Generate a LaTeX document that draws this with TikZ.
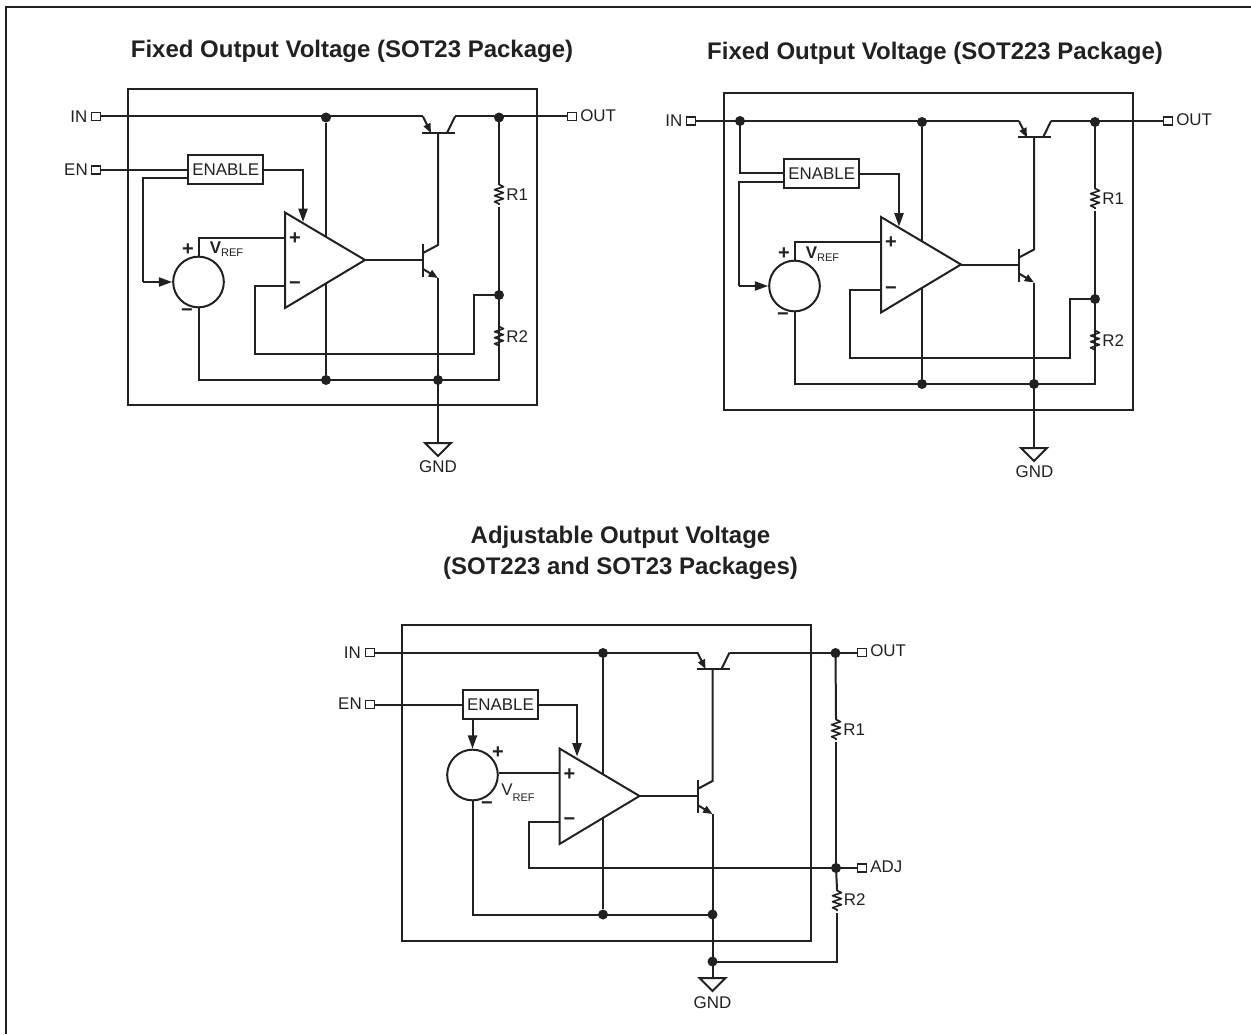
\documentclass[tikz,border=0pt]{standalone}
\usepackage{fontspec}
\setmainfont{Liberation Sans}
\usetikzlibrary{arrows.meta}
\definecolor{ink}{gray}{0.13}
\tikzset{
 x=0.75pt,y=-0.75pt,
 wire/.style={line width=1.5pt,draw=ink,line join=miter},
 box/.style={line width=1.5pt,draw=ink},
 arr/.style={wire,-{Triangle[length=10pt,width=6.8pt]}},
 smallarr/.style={wire,-{Triangle[length=7pt,width=5.5pt]}},
 dot/.style={circle,fill=ink,inner sep=0pt,minimum size=7.5pt},
 pin/.style={rectangle,draw=ink,fill=white,line width=1.2pt,inner sep=0pt,minimum width=6.5pt,minimum height=5.8pt},
 lbl/.style={font=\fontsize{12.7pt}{14pt}\selectfont,text=ink,inner sep=0pt},
 sym/.style={font=\bfseries\fontsize{15pt}{15pt}\selectfont,text=ink,inner sep=0pt},
 ttl/.style={font=\bfseries\fontsize{18pt}{23pt}\selectfont,text=ink,inner sep=0pt,align=center},
 enbox/.style={draw=ink,line width=1.5pt,fill=white,minimum width=56pt,minimum height=21.5pt,inner sep=0pt,font=\fontsize{12.7pt}{14pt}\selectfont,text=ink},
 srcc/.style={draw=ink,line width=1.5pt,circle,minimum size=38pt,inner sep=0pt,fill=white},
}
\newcommand{\vres}[2]{%
 \draw[wire,line width=1.2pt,line join=round] (#1,#2-12) -- ++(0,1.5) -- ++(4.5,2.2) -- ++(-9,3) -- ++(9,3) -- ++(-9,3) -- ++(9,3) -- ++(-9,3) -- ++(4.5,2) -- ++(0,1.3);}
\newcommand{\gndsym}[2]{%
 \draw[wire] (#1-13,#2) -- (#1+13,#2) -- (#1,#2+13) -- cycle;}
\newcommand{\commonparts}[3]{%
 \begin{scope}[shift={(#2,#3)}]
 \coordinate (#1opA) at (285,212.5); \coordinate (#1opB) at (285,308); \coordinate (#1opC) at (365,260);
 \draw[wire,fill=white] (#1opA) -- (#1opB) -- (#1opC) -- cycle;
 \node[sym] (#1plus) at (295,238.5) {+};
 \node[sym] (#1minus) at (295,286) {−};
 \coordinate (#1pe) at (431,133); \coordinate (#1pc) at (447,133); \coordinate (#1pb) at (438,133);
 \draw[wire] (422,133) -- (455,133);
 \draw[smallarr] (423,116.5) -- (#1pe);
 \draw[wire] (#1pc) -- (455,116.5);
 \coordinate (#1nb) at (423,260); \coordinate (#1nc) at (438,245); \coordinate (#1ne) at (438,278);
 \draw[wire] (423,244) -- (423,277);
 \draw[wire] (#1opC) -- (#1nb);
 \draw[wire] (423,253) -- (#1nc) -- (#1pb);
 \draw[smallarr] (423,269) -- (#1ne);
 \end{scope}}
\begin{document}
\begin{tikzpicture}
\useasboundingbox (0,0) rectangle (1251,1034);
\draw[line width=1.5pt,draw=ink] (6,1034) -- (6,7.5) -- (1251,7.5);
\node[ttl] (t1) at (352,51) {Fixed Output Voltage (SOT23 Package)};
\node[ttl] (t2) at (935,53) {Fixed Output Voltage (SOT223 Package)};
\node[ttl] (t3) at (620.5,553) {Adjustable Output Voltage\\(SOT223 and SOT23 Packages)};
%% ---------- diagram 1 ----------
\draw[box] (128,89) rectangle (537,405);
\node[pin] (ain) at (96,116.5) {}; \node[pin] (aen) at (96,170) {}; \node[pin] (aout) at (572,116.5) {};
\node[lbl,anchor=east] (ainl) at (87.5,116.5) {IN}; \node[lbl,anchor=east] (aenl) at (88,169.5) {EN}; \node[lbl,anchor=west] (aoutl) at (580,115.5) {OUT};
\draw[wire] (ain) -- (423,116.5);
\draw[wire] (455,116.5) -- (aout);
\node[dot] (ad1) at (326,117.5) {};
\node[dot] (ad2) at (499,117.5) {};
\node[dot] (ad3) at (499,295) {};
\node[dot] (ad4) at (326,380) {};
\node[dot] (ad5) at (438,380) {};
\draw[wire] (ad1) -- (ad4);
\commonparts{a}{0}{0}
\node[enbox] (aenb) at (225.7,169.5) {ENABLE};
\draw[wire] (aen) -- (aenb.west |- aen);
\draw[wire] (aenb.east |- 0,170) -| (303,190) coordinate (aa1);
\draw[arr] (aa1) -- (303,222);
\draw[wire] (aenb.west |- 0,178) -| (143,282) coordinate (aa2);
\node[srcc] (avr) at (198.5,282) {};
\draw[arr] (aa2) -- (avr.west);
\draw[wire] (avr.north) |- (285,237.5);
\draw[wire] (avr.south) |- (ad4.center) -- (ad5.center) -| (499,295);
\node[sym] at (188,249.5) {+};
\node[sym] at (187,313) {−};
\node[lbl,anchor=base west] (avref) at (209.5,253.5) {\textbf{V}\fontsize{8.3pt}{10pt}\selectfont\raisebox{-2.5pt}{REF}};
\draw[wire] (ad2.center) -- (499,183);
\vres{499}{195}
\draw[wire] (499,207) -- (ad3.center);
\draw[wire] (ad3.center) -- (499,325);
\vres{499}{337}
\draw[wire] (499,349) -- (499,380);
\node[lbl,anchor=west] at (506,195) {R1};
\node[lbl,anchor=west] at (506,337) {R2};
\draw[wire] (ad3.center) -| (474,354) -| (255,286) -- (285,286);
\draw[wire] (438,278) -- (438,443);
\gndsym{438}{443}
\node[lbl] (agnd) at (438,467) {GND};
%% ---------- diagram 2 ----------
\draw[box] (724,93) rectangle (1133,410);
\node[pin] (bin) at (691,121) {}; \node[pin] (bout) at (1168,121) {};
\node[lbl,anchor=east] (binl) at (682.5,121) {IN}; \node[lbl,anchor=west] (boutl) at (1176,120) {OUT};
\draw[wire] (bin) -- (1019,121);
\draw[wire] (1051,121) -- (bout);
\node[dot] (bd0) at (740,121) {};
\node[dot] (bd1) at (922,122) {};
\node[dot] (bd2) at (1095,122) {};
\node[dot] (bd3) at (1095,299) {};
\node[dot] (bd4) at (922,384) {};
\node[dot] (bd5) at (1034,384) {};
\draw[wire] (bd1) -- (bd4);
\commonparts{b}{596}{4.5}
\node[enbox] (benb) at (821.7,173.5) {ENABLE};
\draw[wire] (bd0.center) |- (benb.west |- 0,173.5);
\draw[wire] (benb.east |- 0,174.5) -| (899,194) coordinate (ba1);
\draw[arr] (ba1) -- (899,226.5);
\draw[wire] (benb.west |- 0,182) -| (739,286) coordinate (ba2);
\node[srcc] (bvr) at (794.5,286) {};
\draw[arr] (ba2) -- (bvr.west);
\draw[wire] (bvr.north) |- (881,241.5);
\draw[wire] (bvr.south) |- (bd4.center) -- (bd5.center) -| (1095,299);
\node[sym] at (784,253.5) {+};
\node[sym] at (783,317) {−};
\node[lbl,anchor=base west] (bvref) at (805.5,258) {\textbf{V}\fontsize{8.3pt}{10pt}\selectfont\raisebox{-2.5pt}{REF}};
\draw[wire] (bd2.center) -- (1095,187);
\vres{1095}{199}
\draw[wire] (1095,211) -- (bd3.center);
\draw[wire] (bd3.center) -- (1095,329);
\vres{1095}{341}
\draw[wire] (1095,353) -- (1095,384);
\node[lbl,anchor=west] at (1102,199) {R1};
\node[lbl,anchor=west] at (1102,341) {R2};
\draw[wire] (bd3.center) -| (1070,358) -| (850,290) -- (881,290);
\draw[wire] (1034,283) -- (1034,448);
\gndsym{1034}{448}
\node[lbl] (bgnd) at (1034.5,472) {GND};
%% ---------- diagram 3 ----------
\draw[box] (402,625) rectangle (811,941);
\node[pin] (cin) at (370,652.5) {}; \node[pin] (cen) at (370,704.5) {}; \node[pin] (cout) at (862,652.5) {}; \node[pin] (cadj) at (862,868) {};
\node[lbl,anchor=east] (cinl) at (361,653) {IN}; \node[lbl,anchor=east] (cenl) at (362,704) {EN};
\node[lbl,anchor=west] (coutl) at (870,651) {OUT}; \node[lbl,anchor=west] (cadjl) at (870,867) {ADJ};
\draw[wire] (cin) -- (697.5,652.5);
\draw[wire] (729.5,652.5) -- (cout);
\node[dot] (cd1) at (603,653) {};
\node[dot] (cd2) at (835.5,653) {};
\node[dot] (cd3) at (836,868) {};
\node[dot] (cd4) at (603,914.5) {};
\node[dot] (cd5) at (712.5,914.5) {};
\node[dot] (cd6) at (712.5,961.5) {};
\draw[wire] (cd1) -- (cd4);
\commonparts{c}{274.5}{536}
\node[enbox] (cenb) at (500.5,704.5) {ENABLE};
\draw[wire] (cen) -- (cenb.west |- cen);
\draw[wire] (cenb.east |- 0,705) -| (577,725) coordinate (ca1);
\draw[arr] (ca1) -- (577,756.5);
\node[srcc] (cvr) at (472.5,775) {};
\draw[arr] (cenb.south -| cvr) -- (cvr.north);
\draw[wire] (cvr.south) |- (cd5.center);
\draw[wire] (cvr.east |- 0,773) -- (559.5,773);
\node[sym] at (498,753) {+};
\node[sym] at (487,806) {−};
\node[lbl,anchor=base west] (cvref) at (501,795.5) {V\fontsize{8.3pt}{10pt}\selectfont\raisebox{-4.5pt}{REF}};
\draw[wire] (cd2.center) -- (836,718);
\vres{836}{730}
\draw[wire] (836,742) -- (cd3.center);
\draw[wire] (cd3.center) -- (cadj);
\draw[wire] (cd3.center) -- (837,889);
\vres{837}{901}
\draw[wire] (837,913) |- (cd6.center);
\node[lbl,anchor=west] at (843,730) {R1};
\node[lbl,anchor=west] at (843.5,900) {R2};
\draw[wire] (cd3.center) -| (529,821.5) -- (559.5,821.5);
\draw[wire] (712.5,814) -- (712.5,978);
\gndsym{712.5}{978}
\node[lbl] (cgnd) at (712.5,1003) {GND};
\end{tikzpicture}
\end{document}
